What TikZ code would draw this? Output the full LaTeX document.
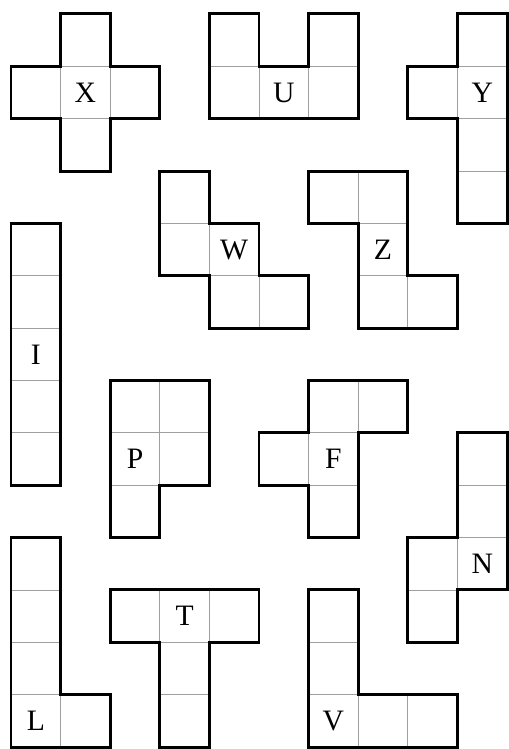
\documentclass[tikz,border=0pt]{standalone}
\usepackage{fontspec}
\setmainfont{Liberation Serif}
\usepackage{tikz}
\usetikzlibrary{positioning}

\begin{document}
\begin{tikzpicture}[
  x=1cm, y=-1.0557cm,
  cell/.style={draw=gray!75, line width=0.5pt},
  piece/.style={draw=black, line width=1.7pt, line join=miter},
  lbl/.style={font=\fontsize{17}{20}\selectfont, inner sep=0pt}
]
  \useasboundingbox (-0.222,-0.267) rectangle (10.040,14.037);

  % top row: X, U, Y
  \foreach \c/\r in {1/0,0/1,1/1,2/1,1/2} \draw[cell] (\c,\r) rectangle ++(1,1);
  \draw[piece] (1,0) -- (2,0) -- (2,1) -- (3,1) -- (3,2) -- (2,2) -- (2,3) -- (1,3) -- (1,2) -- (0,2) -- (0,1) -- (1,1) -- cycle;
  \node[lbl] (X) at (1.5,1.5) {X};

  \foreach \c/\r in {4/0,6/0,4/1,5/1,6/1} \draw[cell] (\c,\r) rectangle ++(1,1);
  \draw[piece] (4,0) -- (5,0) -- (5,1) -- (6,1) -- (6,0) -- (7,0) -- (7,2) -- (4,2) -- cycle;
  \node[lbl] (U) at (5.5,1.5) {U};

  \foreach \c/\r in {9/0,9/1,9/2,9/3,8/1} \draw[cell] (\c,\r) rectangle ++(1,1);
  \draw[piece] (9,0) -- (10,0) -- (10,4) -- (9,4) -- (9,2) -- (8,2) -- (8,1) -- (9,1) -- cycle;
  \node[lbl] (Y) at (9.5,1.5) {Y};

  % middle: W, Z, I
  \foreach \c/\r in {3/3,3/4,4/4,4/5,5/5} \draw[cell] (\c,\r) rectangle ++(1,1);
  \draw[piece] (3,3) -- (4,3) -- (4,4) -- (5,4) -- (5,5) -- (6,5) -- (6,6) -- (4,6) -- (4,5) -- (3,5) -- cycle;
  \node[lbl] (W) at (4.5,4.5) {W};

  \foreach \c/\r in {6/3,7/3,7/4,7/5,8/5} \draw[cell] (\c,\r) rectangle ++(1,1);
  \draw[piece] (6,3) -- (8,3) -- (8,5) -- (9,5) -- (9,6) -- (7,6) -- (7,4) -- (6,4) -- cycle;
  \node[lbl] (Z) at (7.5,4.5) {Z};

  \foreach \r in {4,...,8} \draw[cell] (0,\r) rectangle ++(1,1);
  \draw[piece] (0,4) rectangle (1,9);
  \node[lbl] (I) at (0.5,6.5) {I};

  % P, F, N
  \foreach \c/\r in {2/7,3/7,2/8,3/8,2/9} \draw[cell] (\c,\r) rectangle ++(1,1);
  \draw[piece] (2,7) -- (4,7) -- (4,9) -- (3,9) -- (3,10) -- (2,10) -- cycle;
  \node[lbl] (P) at (2.5,8.5) {P};

  \foreach \c/\r in {6/7,7/7,5/8,6/8,6/9} \draw[cell] (\c,\r) rectangle ++(1,1);
  \draw[piece] (6,7) -- (8,7) -- (8,8) -- (7,8) -- (7,10) -- (6,10) -- (6,9) -- (5,9) -- (5,8) -- (6,8) -- cycle;
  \node[lbl] (F) at (6.5,8.5) {F};

  \foreach \c/\r in {9/8,9/9,9/10,8/10,8/11} \draw[cell] (\c,\r) rectangle ++(1,1);
  \draw[piece] (9,8) -- (10,8) -- (10,11) -- (9,11) -- (9,12) -- (8,12) -- (8,10) -- (9,10) -- cycle;
  \node[lbl] (N) at (9.5,10.5) {N};

  % bottom row: L, T, V
  \foreach \c/\r in {0/10,0/11,0/12,0/13,1/13} \draw[cell] (\c,\r) rectangle ++(1,1);
  \draw[piece] (0,10) -- (1,10) -- (1,13) -- (2,13) -- (2,14) -- (0,14) -- cycle;
  \node[lbl] (L) at (0.5,13.5) {L};

  \foreach \c/\r in {2/11,3/11,4/11,3/12,3/13} \draw[cell] (\c,\r) rectangle ++(1,1);
  \draw[piece] (2,11) -- (5,11) -- (5,12) -- (4,12) -- (4,14) -- (3,14) -- (3,12) -- (2,12) -- cycle;
  \node[lbl] (T) at (3.5,11.5) {T};

  \foreach \c/\r in {6/11,6/12,6/13,7/13,8/13} \draw[cell] (\c,\r) rectangle ++(1,1);
  \draw[piece] (6,11) -- (7,11) -- (7,13) -- (9,13) -- (9,14) -- (6,14) -- cycle;
  \node[lbl] (V) at (6.5,13.5) {V};
\end{tikzpicture}
\end{document}
